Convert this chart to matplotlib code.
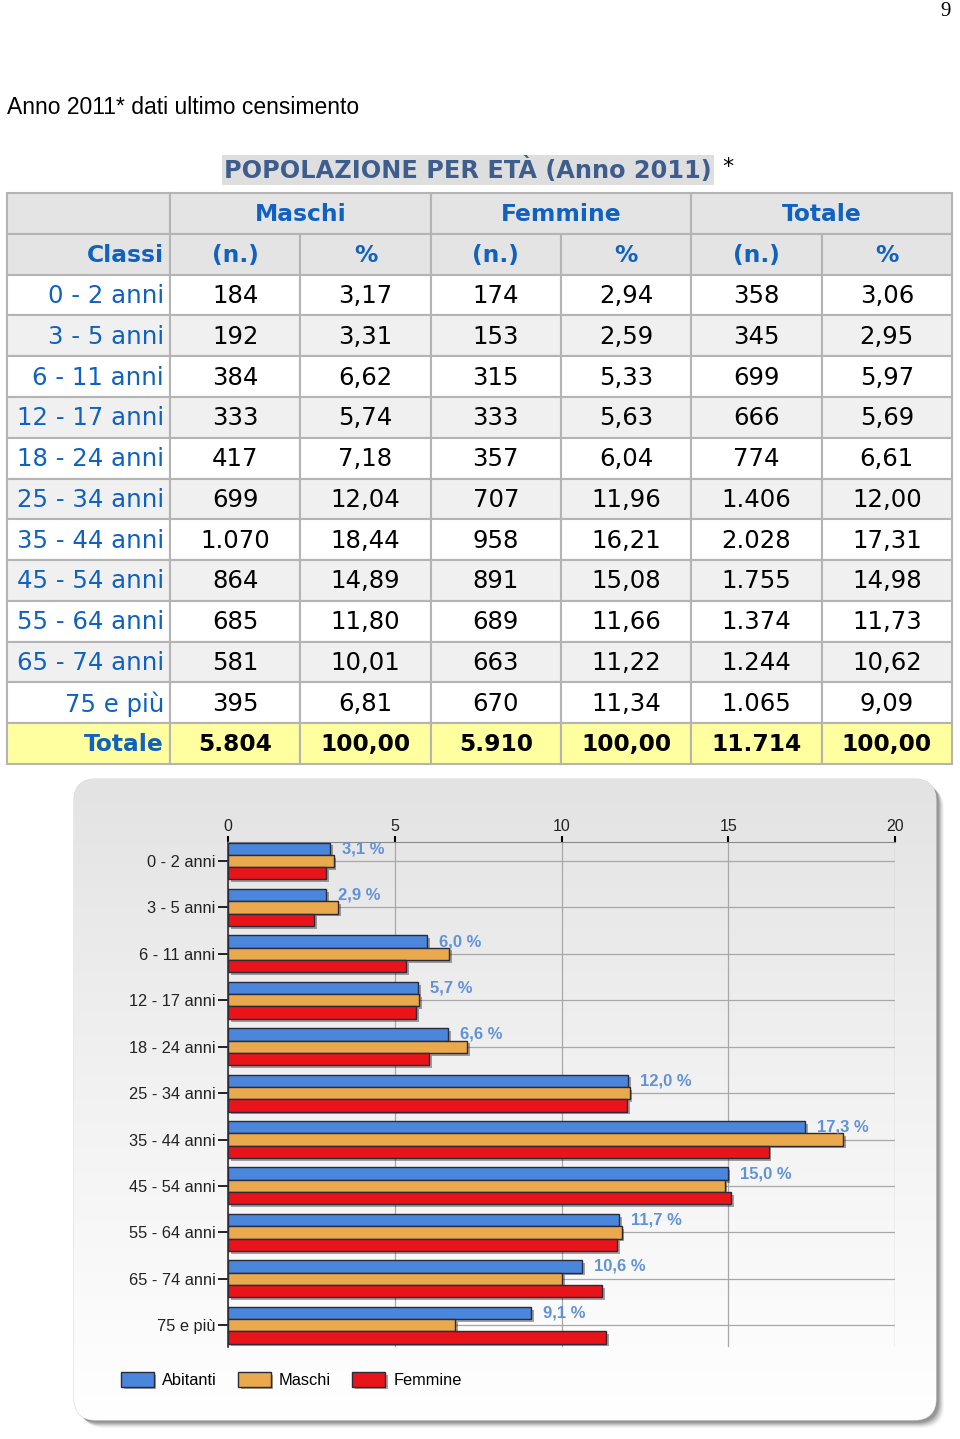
import numpy as np
import matplotlib.pyplot as plt
import matplotlib.patheffects as pe
from matplotlib.patches import Rectangle, FancyBboxPatch
from matplotlib.colors import LinearSegmentedColormap

# ---- data (Anno 2011, ultimo censimento) ----
classi = ["0 - 2 anni", "3 - 5 anni", "6 - 11 anni", "12 - 17 anni", "18 - 24 anni",
          "25 - 34 anni", "35 - 44 anni", "45 - 54 anni", "55 - 64 anni",
          "65 - 74 anni", "75 e più"]
maschi_n = [184, 192, 384, 333, 417, 699, 1070, 864, 685, 581, 395]
maschi_pct = [3.17, 3.31, 6.62, 5.74, 7.18, 12.04, 18.44, 14.89, 11.80, 10.01, 6.81]
femmine_n = [174, 153, 315, 333, 357, 707, 958, 891, 689, 663, 670]
femmine_pct = [2.94, 2.59, 5.33, 5.63, 6.04, 11.96, 16.21, 15.08, 11.66, 11.22, 11.34]
totale_n = [358, 345, 699, 666, 774, 1406, 2028, 1755, 1374, 1244, 1065]
totale_pct = [3.06, 2.95, 5.97, 5.69, 6.61, 12.00, 17.31, 14.98, 11.73, 10.62, 9.09]
x_ticks = [0, 5, 10, 15, 20]
legend_labels = ["Abitanti", "Maschi", "Femmine"]


def fmt_n(n):
    return f"{n:,}".replace(",", ".")


def fmt_p(p):
    return f"{p:.2f}".replace(".", ",")


W, H = 960, 1439
fig = plt.figure(figsize=(W / 100, H / 100), dpi=100)
fig.patch.set_facecolor("white")

# background axes in pixel coordinates
bg = fig.add_axes([0, 0, 1, 1])
bg.set_xlim(0, W)
bg.set_ylim(H, 0)
bg.axis("off")

bg.text(946, 12, "9", fontsize=15, family="Liberation Serif", ha="center", va="center")
bg.text(7, 108, "Anno 2011* dati ultimo censimento", fontsize=16.5,
        family="Liberation Sans", ha="left", va="center")

bg.text(468, 170, "POPOLAZIONE PER ETÀ (Anno 2011)", fontsize=17.3, family="DejaVu Sans",
        fontweight="bold", color="#3d5e8c", ha="center", va="center",
        bbox=dict(facecolor="#dedede", edgecolor="none", pad=1.5))
bg.text(722, 167, "*", fontsize=16, family="DejaVu Sans", ha="left", va="center")

# ---- table ----
tab_left, tab_top, tab_bottom = 7, 193, 764
col_w = [163] + [130.33] * 6
x_edges = tab_left + np.concatenate([[0], np.cumsum(col_w)])
n_rows = 2 + len(classi) + 1
row_h = (tab_bottom - tab_top) / n_rows
grid_col = "#b4b4b4"
blue_txt = "#1061c0"


def cell(r, c0, c1, face, text="", color="black", weight="normal", align="center"):
    x0, x1 = x_edges[c0], x_edges[c1 + 1]
    y0 = tab_top + r * row_h
    bg.add_patch(Rectangle((x0, y0), x1 - x0, row_h, facecolor=face,
                           edgecolor=grid_col, lw=1.5))
    if text:
        if align == "right":
            tx, ha = x1 - 6, "right"
        else:
            tx, ha = (x0 + x1) / 2, "center"
        size = 16.8 if weight == "bold" else 17.6
        bg.text(tx, y0 + row_h / 2 + 1, text, fontsize=size, family="DejaVu Sans",
                color=color, fontweight=weight, ha=ha, va="center")


head_bg = "#e4e4e4"
cell(0, 0, 0, head_bg)
for k, name in enumerate(["Maschi", "Femmine", "Totale"]):
    cell(0, 1 + 2 * k, 2 + 2 * k, head_bg, name, blue_txt, "bold")
cell(1, 0, 0, head_bg, "Classi", blue_txt, "bold", "right")
for k in range(3):
    cell(1, 1 + 2 * k, 1 + 2 * k, head_bg, "(n.)", blue_txt, "bold")
    cell(1, 2 + 2 * k, 2 + 2 * k, head_bg, "%", blue_txt, "bold")

for i, cl in enumerate(classi):
    face = "white" if i % 2 == 0 else "#f0f0f0"
    r = 2 + i
    vals = [fmt_n(maschi_n[i]), fmt_p(maschi_pct[i]), fmt_n(femmine_n[i]),
            fmt_p(femmine_pct[i]), fmt_n(totale_n[i]), fmt_p(totale_pct[i])]
    cell(r, 0, 0, face, cl, blue_txt, "normal", "right")
    for c, v in enumerate(vals):
        cell(r, c + 1, c + 1, face, v)

yel = "#ffffa0"
r = n_rows - 1
cell(r, 0, 0, yel, "Totale", blue_txt, "bold", "right")
tot_vals = [fmt_n(sum(maschi_n)), fmt_p(sum(maschi_n) / sum(maschi_n) * 100),
            fmt_n(sum(femmine_n)), fmt_p(sum(femmine_n) / sum(femmine_n) * 100),
            fmt_n(sum(totale_n)), fmt_p(sum(totale_n) / sum(totale_n) * 100)]
for c, v in enumerate(tot_vals):
    cell(r, c + 1, c + 1, yel, v, "black", "bold")

# ---- chart box with gradient and shadow ----
bx0, by0, bx1, by1 = 74, 779, 936, 1420
for k, a in zip(range(1, 9), np.linspace(0.10, 0.02, 8)):
    bg.add_patch(FancyBboxPatch((bx0 + 2 + k * 0.8, by0 + 2 + k * 0.8),
                                bx1 - bx0, by1 - by0,
                                boxstyle="round,pad=0,rounding_size=22",
                                facecolor="black", edgecolor="none", alpha=a))
box = FancyBboxPatch((bx0, by0), bx1 - bx0, by1 - by0,
                     boxstyle="round,pad=0,rounding_size=22",
                     facecolor="white", edgecolor="#d8d8d8", lw=0.8)
bg.add_patch(box)
cmap_bg = LinearSegmentedColormap.from_list("boxgrad", ["#e3e3e3", "#f2f2f2", "#ffffff"])
grad = np.linspace(0, 1, 256).reshape(-1, 1)
im = bg.imshow(grad, extent=(bx0, bx1, by1, by0), cmap=cmap_bg, aspect="auto",
               origin="upper", zorder=1.5)
im.set_clip_path(box)
bg.set_xlim(0, W)
bg.set_ylim(H, 0)

# ---- bar chart ----
ax_l, ax_r, ax_t, ax_b = 228, 895, 842, 1347
ax = fig.add_axes([ax_l / W, 1 - ax_b / H, (ax_r - ax_l) / W, (ax_b - ax_t) / H])
ax.patch.set_alpha(0)

y = np.arange(len(classi))
bh = 0.265
c_blue, c_orange, c_red = "#4a87dc", "#e9a94c", "#e8141a"
shadow = [pe.SimplePatchShadow(offset=(2, -2), shadow_rgbFace="black", alpha=0.35), pe.Normal()]
kw = dict(height=bh, edgecolor="#2a2a3a", linewidth=1, zorder=3)
b1 = ax.barh(y - bh, totale_pct, color=c_blue, label=legend_labels[0], **kw)
b2 = ax.barh(y, maschi_pct, color=c_orange, label=legend_labels[1], **kw)
b3 = ax.barh(y + bh, femmine_pct, color=c_red, label=legend_labels[2], **kw)
for bars in (b1, b2, b3):
    for p in bars:
        p.set_path_effects(shadow)

tot_all = sum(totale_n)
for i in range(len(classi)):
    lab = f"{totale_n[i] / tot_all * 100:.1f} %".replace(".", ",")
    ax.text(totale_pct[i] + 0.36, y[i] - bh, lab, fontsize=12, family="Liberation Sans",
            fontweight="bold", color="#6192d8", ha="left", va="center", zorder=4)

ax.set_xlim(0, 20)
ax.set_ylim(len(classi) - 1 + 0.47, -0.41)
ax.set_xticks(x_ticks)
ax.set_yticks(y)
ax.set_yticklabels(classi)
ax.xaxis.tick_top()
ax.tick_params(axis="x", length=4, width=1.5, color="black", pad=2, labelsize=11.5)
ax.tick_params(axis="y", length=7, width=1.2, color="black", pad=2, labelsize=11.8)
for lab in ax.get_xticklabels() + ax.get_yticklabels():
    lab.set_family("Liberation Sans")
    lab.set_color("#222222")
ax.grid(True, color="#a8a8a8", lw=0.9, zorder=0)
ax.set_axisbelow(True)
for s in ("right", "bottom"):
    ax.spines[s].set_visible(False)
ax.spines["top"].set_color("#8a8a8a")
ax.spines["left"].set_color("#333333")
ax.spines["left"].set_linewidth(1.2)

fig.legend(handles=[b1, b2, b3], labels=legend_labels, loc="center left",
           bbox_to_anchor=(106 / W, 1 - 1380 / H), ncol=3, frameon=False,
           prop=dict(family="Liberation Sans", size=11.8),
           handlelength=2.0, handleheight=1.0, handletextpad=0.5, columnspacing=1.3)

fig.savefig("out.png", dpi=100)
